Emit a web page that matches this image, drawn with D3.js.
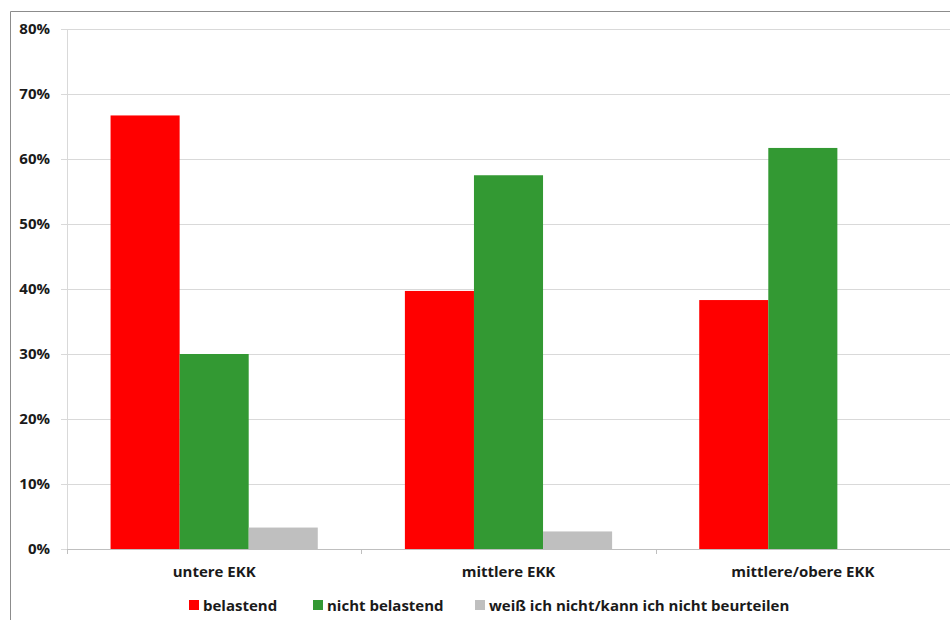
<!DOCTYPE html>
<html><head><meta charset="utf-8">
<script src="https://cdn.jsdelivr.net/npm/d3@7"></script>
<style>body{margin:0;background:#fff;} svg{display:block;font-family:"Open Sans",sans-serif;font-weight:bold;}</style>
</head><body>
<svg id="c" width="950" height="620"></svg>
<script>
const categories = ["untere EKK", "mittlere EKK", "mittlere/obere EKK"];
const seriesNames = ["belastend", "nicht belastend", "weiß ich nicht/kann ich nicht beurteilen"];
const belastend = [66.7, 39.7, 38.3];
const nichtBelastend = [30.0, 57.5, 61.7];
const weissNicht = [3.3, 2.7, 0];
const yTicks = [0, 10, 20, 30, 40, 50, 60, 70, 80];
const colors = ["#FF0000", "#339933", "#BFBFBF"];

const seriesValues = [belastend, nichtBelastend, weissNicht];
const svg = d3.select("#c");
const mLeft = 67, mRight = 950, mTop = 29, mBottom = 549;

// frame
svg.append("path").attr("d", "M10.5,620 V11.5 H950").attr("fill", "none").attr("stroke", "#8c8c8c").attr("stroke-width", 1);

const y = d3.scaleLinear().domain([0, 80]).range([mBottom, mTop]);
const x0 = d3.scaleBand().domain(categories).range([mLeft, mRight]).padding(0);
const bw = x0.bandwidth();
const x1 = d3.scaleBand().domain(seriesNames).range([0.148 * bw, 0.852 * bw]).padding(0);

// gridlines
const yAxis = d3.axisLeft(y).tickValues(yTicks).tickFormat(d => d + "%").tickSize(-(mRight - mLeft)).tickPadding(17);
const gy = svg.append("g").attr("transform", `translate(${mLeft},0)`).call(yAxis);
gy.select(".domain").remove();
gy.selectAll(".tick line").attr("stroke", "#d9d9d9").attr("x1", -6).attr("stroke-width", 1);
gy.selectAll(".tick text").attr("font-size", 15).attr("font-weight", "bold").attr("fill", "#1a1a1a").attr("font-family", "Open Sans, sans-serif");

// vertical axis line
svg.append("line").attr("x1", mLeft + 0.5).attr("x2", mLeft + 0.5).attr("y1", mTop).attr("y2", mBottom + 5).attr("stroke", "#d9d9d9");

// bars
categories.forEach((cat, ci) => {
  seriesNames.forEach((s, si) => {
    const v = seriesValues[si][ci];
    if (v <= 0) return;
    svg.append("rect")
      .attr("x", x0(cat) + x1(s))
      .attr("y", y(v))
      .attr("width", x1.bandwidth())
      .attr("height", y(0) - y(v))
      .attr("fill", colors[si]);
  });
});

// x axis
const xAxis = d3.axisBottom(x0).tickSize(0).tickPadding(17);
const gx = svg.append("g").attr("transform", `translate(0,${mBottom})`).call(xAxis);
gx.select(".domain").attr("stroke", "#bfbfbf").attr("d", `M${mLeft},0.5H${mRight}`);
gx.selectAll(".tick text").attr("font-size", 15).attr("font-weight", "bold").attr("fill", "#1a1a1a").attr("font-family", "Open Sans, sans-serif");
// category separator ticks
const sepTicks = categories.map(c => x0(c)).concat([mRight]);
svg.selectAll(".sep").data(sepTicks).enter().append("line")
  .attr("x1", d => Math.round(d) + 0.5).attr("x2", d => Math.round(d) + 0.5)
  .attr("y1", mBottom).attr("y2", mBottom + 5).attr("stroke", "#bfbfbf");

// legend
const legendX = [189, 313, 475];
const lg = svg.append("g");
seriesNames.forEach((s, i) => {
  const g = lg.append("g").attr("transform", `translate(${legendX[i]},605)`);
  g.append("rect").attr("x", 0).attr("y", -5).attr("width", 10).attr("height", 10).attr("fill", colors[i]);
  g.append("text").attr("x", 14).attr("y", 5.5).attr("font-size", 15).attr("fill", "#1a1a1a").text(s);
});
</script>
</body></html>
